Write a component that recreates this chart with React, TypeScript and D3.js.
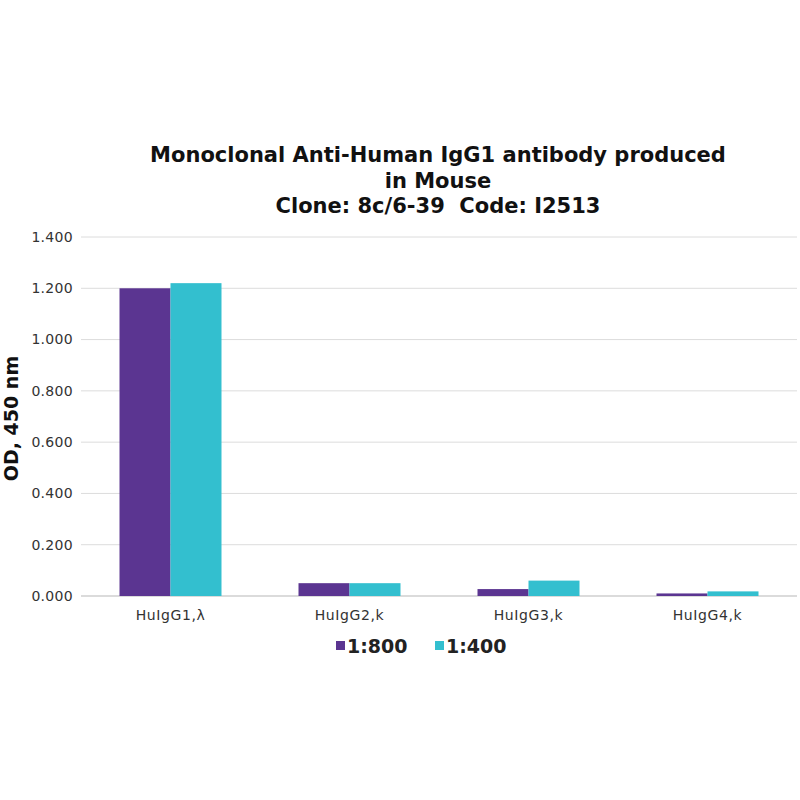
import React from "react";
import * as d3 from "d3";

const categories = ["HuIgG1,λ", "HuIgG2,k", "HuIgG3,k", "HuIgG4,k"];
const seriesNames = ["1:800", "1:400"];
const values1to800 = [1.2, 0.05, 0.027, 0.01];
const values1to400 = [1.22, 0.05, 0.06, 0.018];
const yTicks = [0, 0.2, 0.4, 0.6, 0.8, 1.0, 1.2, 1.4];
const titleLines = [
  "Monoclonal Anti-Human IgG1 antibody produced",
  "in Mouse",
  "Clone: 8c/6-39\u00a0\u00a0Code: I2513",
];
const colors = ["#5b3591", "#33bfcf"];

export default function App() {
  const W = 800, H = 800;
  const left = 81, right = 797, top = 237, bottom = 596;
  const x = d3.scaleBand<string>().domain(categories).range([left, right]).paddingInner(0).paddingOuter(0);
  const inner = d3.scaleBand<string>().domain(seriesNames).range([0, x.bandwidth()]).paddingInner(0).paddingOuter(0.755);
  const y = d3.scaleLinear().domain([0, 1.4]).range([bottom, top]);
  const series = [values1to800, values1to400];
  const font = "'DejaVu Sans', Verdana, sans-serif";
  const fmt = d3.format(".3f");
  return (
    <svg width={W} height={H} style={{ position: "absolute", left: 0, top: 0, background: "#fff" }} fontFamily={font}>
      <rect x={0} y={0} width={W} height={H} fill="#fff" />
      {titleLines.map((t, i) => (
        <text key={i} x={438} y={162 + i * 25.5} textAnchor="middle" fontSize={21} fontWeight={600} fill="#111">
          {t}
        </text>
      ))}
      {yTicks.map((t) => (
        <g key={t}>
          <line x1={left} x2={right} y1={y(t)} y2={y(t)} stroke={t === 0 ? "#cfcfcf" : "#dcdcdc"} strokeWidth={t === 0 ? 1.5 : 1} />
          <text x={73} y={y(t)} dy="0.35em" textAnchor="end" fontSize={14} letterSpacing={0.3} fill="#333">
            {fmt(t)}
          </text>
        </g>
      ))}
      {categories.map((c, ci) =>
        series.map((vals, si) => (
          <rect
            key={c + si}
            x={(x(c) ?? 0) + (inner(seriesNames[si]) ?? 0)}
            y={y(vals[ci])}
            width={inner.bandwidth()}
            height={bottom - y(vals[ci])}
            fill={colors[si]}
          />
        ))
      )}
      {categories.map((c) => (
        <text key={c} x={(x(c) ?? 0) + x.bandwidth() / 2} y={620} textAnchor="middle" fontSize={14} letterSpacing={0.6} fill="#333">
          {c}
        </text>
      ))}
      <text transform={`translate(18,${(top + bottom) / 2 + 2}) rotate(-90)`} textAnchor="middle" fontSize={19} fontWeight="bold" fill="#111">
        OD, 450 nm
      </text>
      {seriesNames.map((s, i) => (
        <g key={s} transform={`translate(336,0)`}>
          <rect x={i * 99} y={641} width={9} height={9} fill={colors[i]} />
          <text x={i * 99 + 11} y={653} fontSize={19} fontWeight="bold" fill="#222">
            {s}
          </text>
        </g>
      ))}
    </svg>
  );
}
